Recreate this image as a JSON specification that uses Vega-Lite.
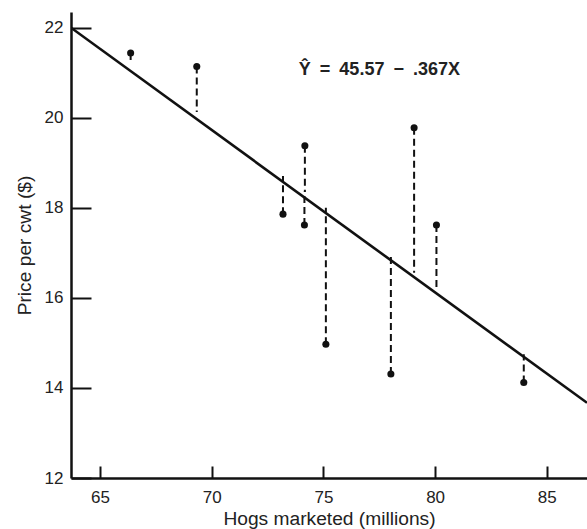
{
  "$schema": "https://vega.github.io/schema/vega-lite/v6.json",
  "width": 516,
  "height": 466,
  "autosize": {"type": "none"},
  "padding": {"left": 71, "top": 12, "right": 0, "bottom": 51},
  "background": "white",
  "config": {
    "view": {"stroke": null},
    "font": "Liberation Sans",
    "axis": {
      "grid": false,
      "domainColor": "#111",
      "domainWidth": 2.5,
      "tickColor": "#111",
      "tickWidth": 2,
      "labelColor": "#222",
      "titleColor": "#222",
      "labelFont": "Liberation Sans",
      "titleFont": "Liberation Sans",
      "labelFontSize": 17,
      "titleFontSize": 19.2,
      "titleFontWeight": "normal"
    }
  },
  "datasets": {
    "obs": [
      {"hogs": 66.37, "price": 21.44, "fitted": 21.21},
      {"hogs": 69.33, "price": 21.14, "fitted": 20.13},
      {"hogs": 73.19, "price": 17.86, "fitted": 18.71},
      {"hogs": 74.17, "price": 19.38, "fitted": 18.35},
      {"hogs": 74.15, "price": 17.62, "fitted": 18.36},
      {"hogs": 75.11, "price": 14.97, "fitted": 18.00},
      {"hogs": 78.02, "price": 14.31, "fitted": 16.94},
      {"hogs": 79.06, "price": 19.78, "fitted": 16.56},
      {"hogs": 80.06, "price": 17.62, "fitted": 16.19},
      {"hogs": 83.97, "price": 14.12, "fitted": 14.75}
    ],
    "fit": [
      {"hogs": 63.7, "price": 22.0},
      {"hogs": 86.8, "price": 13.67}
    ],
    "eq": [
      {"hogs": 73.9, "price": 21.07, "label": "Ŷ\u2002=\u200245.57\u2002−\u2002.367X"}
    ]
  },
  "encoding": {
    "x": {
      "field": "hogs",
      "type": "quantitative",
      "scale": {"domain": [63.7, 86.8], "nice": false, "zero": false},
      "axis": {
        "title": "Hogs marketed (millions)",
        "values": [65, 70, 75, 80, 85],
        "tickSize": -12,
        "labelPadding": 23,
        "titlePadding": 4
      }
    },
    "y": {
      "field": "price",
      "type": "quantitative",
      "scale": {"domain": [12, 22.35], "nice": false, "zero": false},
      "axis": {
        "title": "Price per cwt ($)",
        "values": [12, 14, 16, 18, 20, 22],
        "tickSize": -20,
        "labelPadding": 28,
        "titlePadding": 10
      }
    }
  },
  "layer": [
    {
      "data": {"name": "obs"},
      "mark": {"type": "rule", "strokeDash": [7, 4], "strokeWidth": 2, "color": "#111"},
      "encoding": {"y2": {"field": "fitted"}}
    },
    {
      "data": {"name": "fit"},
      "mark": {"type": "line", "strokeWidth": 2.6, "color": "#111", "clip": true},
      "encoding": {}
    },
    {
      "data": {"name": "obs"},
      "mark": {"type": "circle", "size": 50, "color": "#111", "opacity": 1}
    },
    {
      "data": {"name": "eq"},
      "mark": {"type": "text", "align": "left", "baseline": "middle", "fontSize": 18, "fontWeight": "bold", "color": "#222", "font": "Liberation Sans"},
      "encoding": {"text": {"field": "label"}}
    }
  ]
}
